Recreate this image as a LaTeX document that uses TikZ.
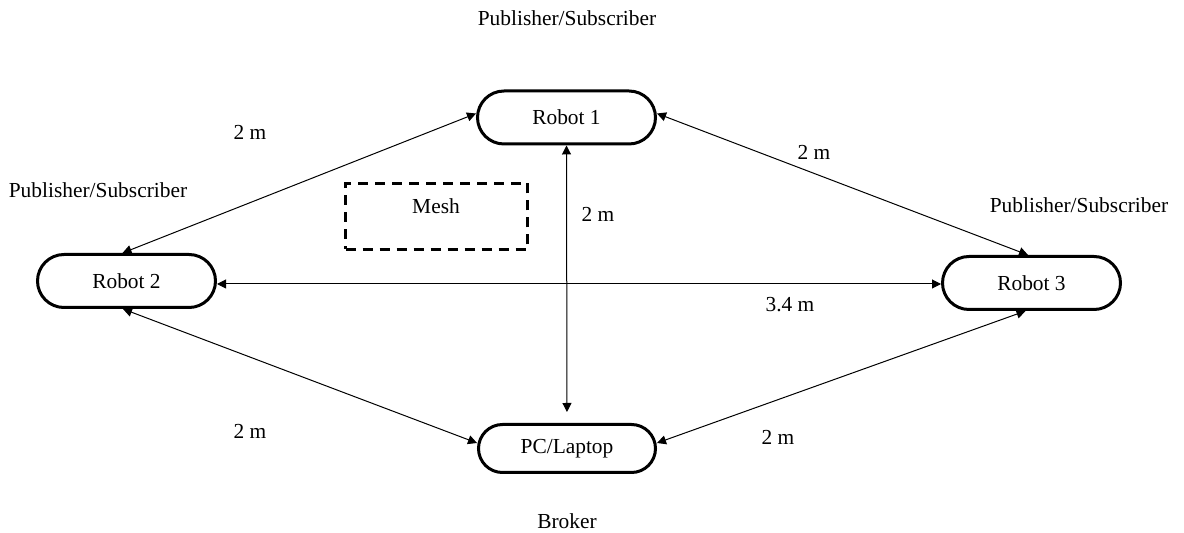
\documentclass[tikz,border=0pt]{standalone}
\usepackage{fontspec}
\setmainfont{Liberation Serif}
\newfontfamily\timesfont{Liberation Serif}
\usetikzlibrary{arrows.meta}
\begin{document}
\begin{tikzpicture}[x=0.5pt,y=-0.5pt,
  every node/.style={font=\timesfont\fontsize{10.7}{13}\selectfont, inner sep=0pt},
  robotbox/.style={draw, line width=1.5pt, rounded corners=13.25pt, minimum width=89pt, minimum height=26.5pt},
  meshbox/.style={draw, line width=1.5pt, dash pattern=on 5pt off 3.5pt, minimum width=91pt, minimum height=33pt},
  link/.style={line width=0.5pt, {Triangle[length=4.5pt,width=4.5pt]}-{Triangle[length=4.5pt,width=4.5pt]}}
]
\useasboundingbox (0,0) rectangle (1184,533);

% nodes
\node[robotbox] (r1) at (566.5,117.5) {Robot 1};
\node[robotbox] (r2) at (126.5,281) {Robot 2};
\node[robotbox] (r3) at (1031.5,283) {Robot 3};
\node[robotbox, minimum height=24pt, rounded corners=12pt, minimum width=88.5pt] (pc) at (567,448.5) {PC/Laptop};
\node[meshbox] (mesh) at (436.5,216.5) {};
\node (meshlabel) at (436,206) {Mesh};

% role labels
\node (ps1) at (567,18) {Publisher/Subscriber};
\node (ps2) at (98,190) {Publisher/Subscriber};
\node (ps3) at (1079,205) {Publisher/Subscriber};
\node (broker) at (567,521) {Broker};

% connectors
\draw[link] ([yshift=2pt]r1.west) -- ([xshift=-2pt]r2.north);
\draw[link] ([yshift=2pt]r1.east) -- ([xshift=-1.75pt]r3.north);
\draw[link] ([yshift=-1.5pt]r2.east) -- ([yshift=-0.5pt]r3.west);
\draw[link, shorten >=5.5pt] (r1.south) -- (pc.north);
\draw[link] ([xshift=-1.75pt]r2.south) -- ([yshift=2.75pt]pc.west);
\draw[link] ([xshift=-3pt]r3.south) -- ([yshift=2.75pt]pc.east);

% distance labels
\node (d1) at (250,132) {2 m};
\node (d2) at (814,152) {2 m};
\node (d3) at (598,214) {2 m};
\node (d4) at (790,305) {3.4 m};
\node (d5) at (250,431) {2 m};
\node (d6) at (778,437) {2 m};
\end{tikzpicture}
\end{document}
